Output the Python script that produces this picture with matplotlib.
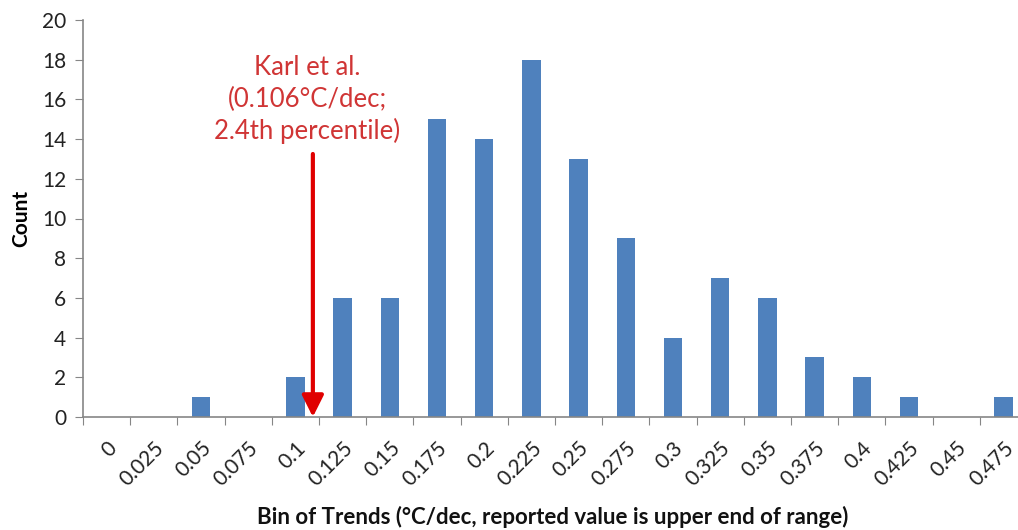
import numpy as np
import matplotlib.pyplot as plt

plt.rcParams['font.family'] = ['Lato', 'DejaVu Sans']

# histogram of trends, bins labelled by upper end
bins = ['0', '0.025', '0.05', '0.075', '0.1', '0.125', '0.15', '0.175', '0.2', '0.225',
        '0.25', '0.275', '0.3', '0.325', '0.35', '0.375', '0.4', '0.425', '0.45', '0.475']
counts = [0, 0, 1, 0, 2, 6, 6, 15, 14, 18, 13, 9, 4, 7, 6, 3, 2, 1, 0, 1]

# Karl et al. marker position (in category units) and arrow top
karl_x = 4.37
karl_top = 13.25

fig = plt.figure(figsize=(10.18, 5.30), dpi=100)
ax = fig.add_axes([83 / 1018, 113 / 530, 944 / 1018, 397 / 530])

x = np.arange(len(bins))
ax.bar(x, counts, width=0.39, color='#4F81BD', zorder=2)

ax.set_xlim(-0.5, len(bins) - 0.5)
ax.set_ylim(0, 20)
ax.set_yticks(range(0, 21, 2))

axis_col = '#868686'
for s in ['top', 'right']:
    ax.spines[s].set_visible(False)
for s in ['left', 'bottom']:
    ax.spines[s].set_color(axis_col)
    ax.spines[s].set_linewidth(1.2)

# ticks between categories, labels at centres
ax.set_xticks(np.arange(-0.5, len(bins), 1.0))
ax.set_xticklabels([])
ax.set_xticks(x, minor=True)
ax.set_xticklabels(bins, minor=True, rotation=45, ha='right', va='top',
                   rotation_mode='anchor', fontsize=15, color='#222222')
ax.tick_params(axis='x', which='major', length=6, color=axis_col, direction='out')
ax.tick_params(axis='x', which='minor', length=0, pad=15)
ax.tick_params(axis='y', length=6, color=axis_col, labelsize=15, labelcolor='#222222', pad=6)

ax.set_ylabel('Count', fontsize=15, fontweight='bold', labelpad=8)
fig.text(553 / 1018, 1 - 517 / 530,
         'Bin of Trends (\u00b0C/dec, reported value is upper end of range)',
         fontsize=16, fontweight='bold', ha='center', va='center', color='#111111')

# Karl et al. arrow
red = '#E00000'
ax.annotate('', xy=(karl_x, 0), xytext=(karl_x, karl_top),
            arrowprops=dict(arrowstyle='-|>,head_width=0.65,head_length=1.3',
                            color=red, lw=3, shrinkA=0, shrinkB=0), zorder=3)
ax.text(karl_x - 0.12, 13.75, 'Karl et al.\n(0.106\u00b0C/dec;\n2.4th percentile)',
        color='#D03535', fontsize=18.5, ha='center', va='bottom', linespacing=1.3)

fig.savefig('out.png', dpi=100)
